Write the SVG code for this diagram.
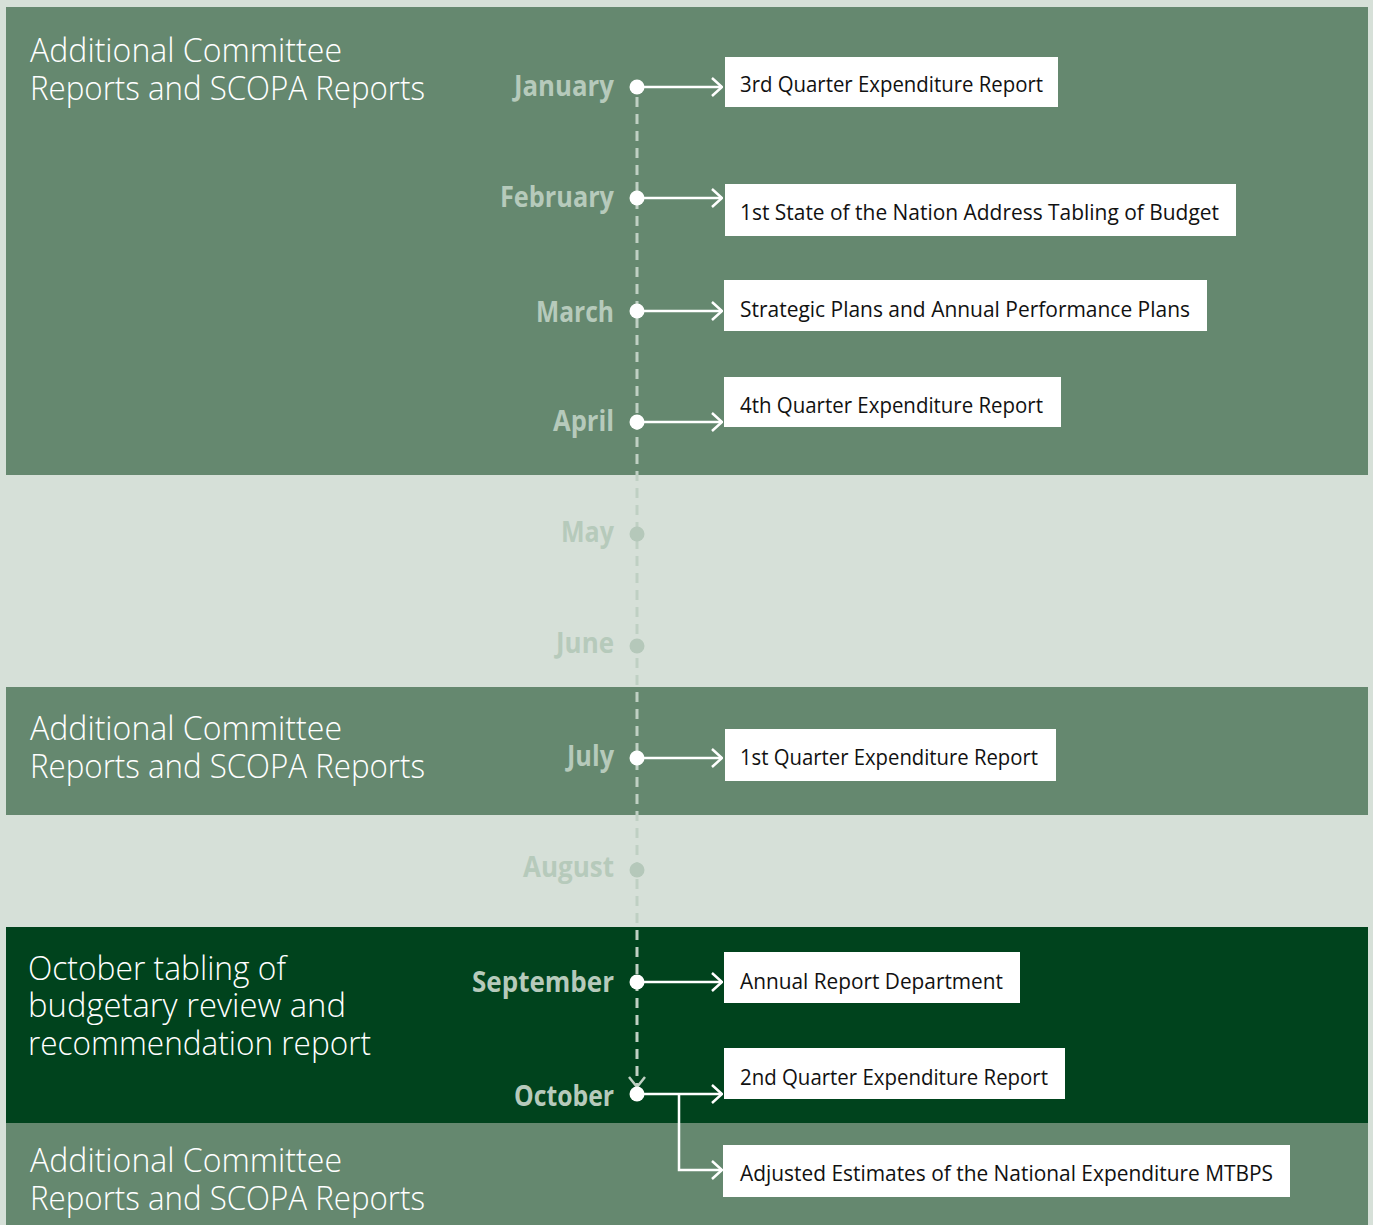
<svg xmlns="http://www.w3.org/2000/svg" width="1373" height="1225" viewBox="0 0 1373 1225">
<defs>
<style>
.title{font-family:"Open Sans","Liberation Sans",sans-serif;font-weight:300;font-size:33px;fill:#ffffff}
.month{font-family:"Open Sans","Liberation Sans",sans-serif;font-weight:700;font-size:28px;fill:#b6cabb;text-anchor:end}
.box{fill:#ffffff}
.bt{font-family:"Open Sans","Liberation Sans",sans-serif;font-size:22px;fill:#111111}
.dot{fill:#ffffff}
.fdot{fill:#b5c8ba}
.conn{stroke:#ffffff;stroke-width:2.5;fill:none}
.dash{stroke:#bfd0c3;stroke-width:3;stroke-dasharray:10 7;fill:none}
</style>
<marker id="arr" viewBox="0 0 12 20" refX="11" refY="10" markerWidth="12" markerHeight="20" markerUnits="userSpaceOnUse" orient="auto">
<path d="M1,1 L11,10 L1,19" fill="none" stroke="#ffffff" stroke-width="2.5"/>
</marker>
</defs>
<rect x="0" y="0" width="1373" height="1225" fill="#d6e0d8"/>
<g id="bands">
<rect x="6" y="7" width="1362" height="468" fill="#65886f"/>
<rect x="6" y="687" width="1362" height="128" fill="#65886f"/>
<rect x="6" y="927" width="1362" height="196" fill="#00431d"/>
<rect x="6" y="1123" width="1362" height="102" fill="#65886f"/>
</g>
<g id="titles">
<text class="title" x="30" y="62" textLength="312" lengthAdjust="spacingAndGlyphs">Additional Committee</text>
<text class="title" x="30" y="100" textLength="395" lengthAdjust="spacingAndGlyphs">Reports and SCOPA Reports</text>
<text class="title" x="30" y="740" textLength="312" lengthAdjust="spacingAndGlyphs">Additional Committee</text>
<text class="title" x="30" y="778" textLength="395" lengthAdjust="spacingAndGlyphs">Reports and SCOPA Reports</text>
<text class="title" x="28" y="980" textLength="258" lengthAdjust="spacingAndGlyphs">October tabling of</text>
<text class="title" x="28" y="1017" textLength="318" lengthAdjust="spacingAndGlyphs">budgetary review and</text>
<text class="title" x="28" y="1055" textLength="343" lengthAdjust="spacingAndGlyphs">recommendation report</text>
<text class="title" x="30" y="1172" textLength="312" lengthAdjust="spacingAndGlyphs">Additional Committee</text>
<text class="title" x="30" y="1210" textLength="395" lengthAdjust="spacingAndGlyphs">Reports and SCOPA Reports</text>
</g>
<g id="connectors">
<line class="dash" x1="637" y1="97" x2="637" y2="1086"/>
<path d="M629,1077 L637,1087 L645,1077" fill="none" stroke="#bfd0c3" stroke-width="2.5"/>
<line class="conn" x1="637" y1="87" x2="722" y2="87" marker-end="url(#arr)"/>
<line class="conn" x1="637" y1="198" x2="722" y2="198" marker-end="url(#arr)"/>
<line class="conn" x1="637" y1="311" x2="722" y2="311" marker-end="url(#arr)"/>
<line class="conn" x1="637" y1="422" x2="722" y2="422" marker-end="url(#arr)"/>
<line class="conn" x1="637" y1="758" x2="722" y2="758" marker-end="url(#arr)"/>
<line class="conn" x1="637" y1="982" x2="722" y2="982" marker-end="url(#arr)"/>
<line class="conn" x1="637" y1="1094" x2="722" y2="1094" marker-end="url(#arr)"/>
<path class="conn" d="M679,1094 L679,1170 L722,1170" marker-end="url(#arr)"/>
</g>
<g id="m-jan"><circle class="dot" cx="637" cy="87" r="7.5"/><text class="month" x="614" y="96" textLength="100" lengthAdjust="spacingAndGlyphs">January</text></g>
<g id="m-feb"><circle class="dot" cx="637" cy="198" r="7.5"/><text class="month" x="614" y="207" textLength="114" lengthAdjust="spacingAndGlyphs">February</text></g>
<g id="m-mar"><circle class="dot" cx="637" cy="311" r="7.5"/><text class="month" x="614" y="322" textLength="78" lengthAdjust="spacingAndGlyphs">March</text></g>
<g id="m-apr"><circle class="dot" cx="637" cy="422" r="7.5"/><text class="month" x="614" y="431" textLength="61" lengthAdjust="spacingAndGlyphs">April</text></g>
<g id="m-may"><circle class="fdot" cx="637" cy="534" r="7.5"/><text class="month" x="614" y="542" textLength="53" lengthAdjust="spacingAndGlyphs">May</text></g>
<g id="m-jun"><circle class="fdot" cx="637" cy="646" r="7.5"/><text class="month" x="614" y="653" textLength="58" lengthAdjust="spacingAndGlyphs">June</text></g>
<g id="m-jul"><circle class="dot" cx="637" cy="758" r="7.5"/><text class="month" x="614" y="766" textLength="47" lengthAdjust="spacingAndGlyphs">July</text></g>
<g id="m-aug"><circle class="fdot" cx="637" cy="870" r="7.5"/><text class="month" x="614" y="877" textLength="91" lengthAdjust="spacingAndGlyphs">August</text></g>
<g id="m-sep"><circle class="dot" cx="637" cy="982" r="7.5"/><text class="month" x="614" y="992" textLength="142" lengthAdjust="spacingAndGlyphs">September</text></g>
<g id="m-oct"><circle class="dot" cx="637" cy="1094" r="7.5"/><text class="month" x="614" y="1106" textLength="100" lengthAdjust="spacingAndGlyphs">October</text></g>
<g id="n1"><rect class="box" x="725" y="57" width="333" height="50"/><text class="bt" x="740" y="92" textLength="303" lengthAdjust="spacingAndGlyphs">3rd Quarter Expenditure Report</text></g>
<g id="n2"><rect class="box" x="725" y="184" width="511" height="52"/><text class="bt" x="740" y="220" textLength="479" lengthAdjust="spacingAndGlyphs">1st State of the Nation Address Tabling of Budget</text></g>
<g id="n3"><rect class="box" x="724" y="280" width="483" height="51"/><text class="bt" x="740" y="317" textLength="450" lengthAdjust="spacingAndGlyphs">Strategic Plans and Annual Performance Plans</text></g>
<g id="n4"><rect class="box" x="724" y="377" width="337" height="50"/><text class="bt" x="740" y="413" textLength="303" lengthAdjust="spacingAndGlyphs">4th Quarter Expenditure Report</text></g>
<g id="n5"><rect class="box" x="725" y="729" width="331" height="52"/><text class="bt" x="740" y="765" textLength="298" lengthAdjust="spacingAndGlyphs">1st Quarter Expenditure Report</text></g>
<g id="n6"><rect class="box" x="724" y="952" width="296" height="51"/><text class="bt" x="740" y="989" textLength="263" lengthAdjust="spacingAndGlyphs">Annual Report Department</text></g>
<g id="n7"><rect class="box" x="724" y="1048" width="341" height="51"/><text class="bt" x="740" y="1085" textLength="308" lengthAdjust="spacingAndGlyphs">2nd Quarter Expenditure Report</text></g>
<g id="n8"><rect class="box" x="723" y="1145" width="567" height="52"/><text class="bt" x="740" y="1181" textLength="533" lengthAdjust="spacingAndGlyphs">Adjusted Estimates of the National Expenditure MTBPS</text></g>
</svg>
